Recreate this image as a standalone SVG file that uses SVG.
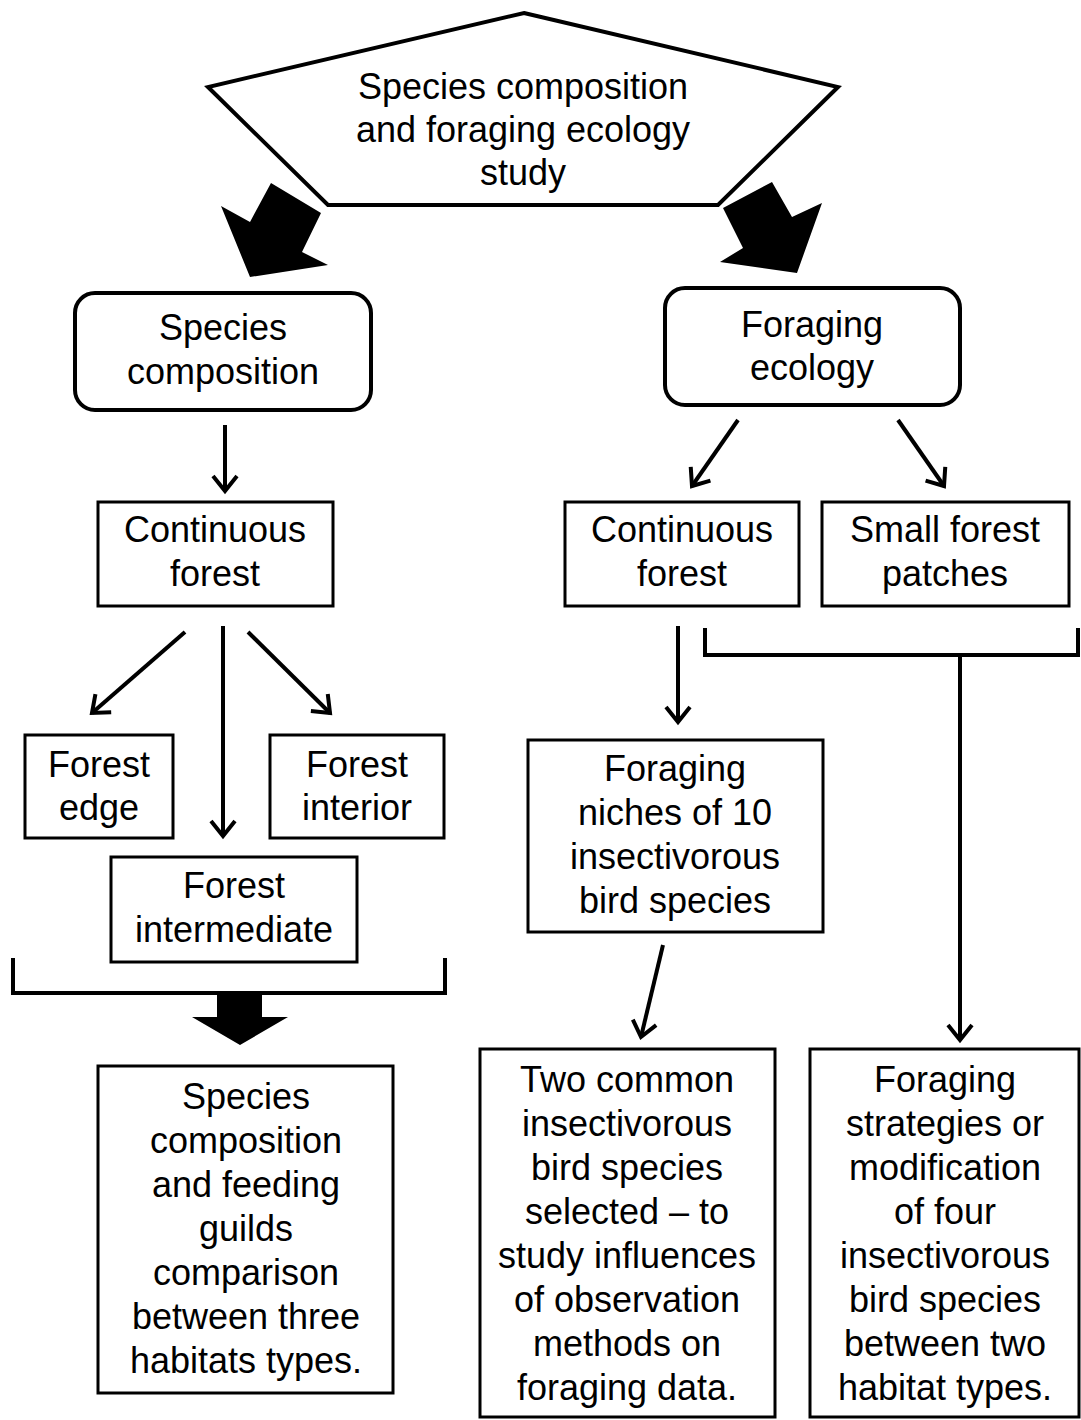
<svg xmlns="http://www.w3.org/2000/svg" width="1081" height="1420" viewBox="0 0 1081 1420">
<style>
.t{font-family:"Liberation Sans",Arial,sans-serif;font-size:36px;fill:#000;text-anchor:middle}
.box{fill:#fff;stroke:#000;stroke-width:3}
.rbox{fill:#fff;stroke:#000;stroke-width:4}
.ln{fill:none;stroke:#000;stroke-width:4}
.blk{fill:#000;stroke:none}
</style>
<defs>
<marker id="ah" viewBox="-20 -14 26 28" refX="0" refY="0" markerWidth="26" markerHeight="28" orient="auto" markerUnits="userSpaceOnUse" overflow="visible">
<path d="M-15,-12 L0,0 L-15,12" fill="none" stroke="#000" stroke-width="4"/>
</marker>
</defs>
<rect width="1081" height="1420" fill="#fff"/>

<g id="connectors">
<polygon class="blk" points="271,183 321,213 302,252 328,265 250,277 221,206 250,222"/>
<polygon class="blk" points="723,208 772,182 792,217 822,203 797,273 720,262 743,248"/>
<line class="ln" x1="225" y1="425" x2="225" y2="491" marker-end="url(#ah)"/>
<line class="ln" x1="738" y1="420" x2="692" y2="486" marker-end="url(#ah)"/>
<line class="ln" x1="898" y1="420" x2="944" y2="486" marker-end="url(#ah)"/>
<line class="ln" x1="185" y1="632" x2="92" y2="713" marker-end="url(#ah)"/>
<line class="ln" x1="223" y1="626" x2="223" y2="836" marker-end="url(#ah)"/>
<line class="ln" x1="248" y1="632" x2="330" y2="713" marker-end="url(#ah)"/>
<polyline class="ln" points="13,958 13,993 445,993 445,958"/>
<polygon class="blk" points="217,993 262,993 262,1017 288,1017 240,1045 192,1017 217,1017"/>
<line class="ln" x1="678" y1="626" x2="678" y2="722" marker-end="url(#ah)"/>
<polyline class="ln" points="705,628 705,655 1078,655 1078,628"/>
<line class="ln" x1="960" y1="655" x2="960" y2="1040" marker-end="url(#ah)"/>
<line class="ln" x1="663" y1="945" x2="641" y2="1037" marker-end="url(#ah)"/>
</g>

<g id="study">
<polygon class="rbox" points="524,13 838,87 718,205 328,205 208,87"/>
<text class="t" x="523" y="99">Species composition</text>
<text class="t" x="523" y="142">and foraging ecology</text>
<text class="t" x="523" y="185">study</text>
</g>

<g id="species-composition">
<rect class="rbox" x="75" y="293" width="296" height="117" rx="20"/>
<text class="t" x="223" y="340">Species</text>
<text class="t" x="223" y="384">composition</text>
</g>

<g id="foraging-ecology">
<rect class="rbox" x="665" y="288" width="295" height="117" rx="20"/>
<text class="t" x="812" y="337">Foraging</text>
<text class="t" x="812" y="380">ecology</text>
</g>

<g id="continuous-forest-left">
<rect class="box" x="98" y="502" width="235" height="104"/>
<text class="t" x="215" y="542">Continuous</text>
<text class="t" x="215" y="586">forest</text>
</g>

<g id="forest-edge">
<rect class="box" x="25" y="735" width="148" height="103"/>
<text class="t" x="99" y="777">Forest</text>
<text class="t" x="99" y="820">edge</text>
</g>

<g id="forest-interior">
<rect class="box" x="270" y="735" width="174" height="103"/>
<text class="t" x="357" y="777">Forest</text>
<text class="t" x="357" y="820">interior</text>
</g>

<g id="forest-intermediate">
<rect class="box" x="111" y="857" width="246" height="105"/>
<text class="t" x="234" y="898">Forest</text>
<text class="t" x="234" y="942">intermediate</text>
</g>

<g id="species-comparison">
<rect class="box" x="98" y="1066" width="295" height="327"/>
<text class="t" x="246" y="1109">Species</text>
<text class="t" x="246" y="1153">composition</text>
<text class="t" x="246" y="1197">and feeding</text>
<text class="t" x="246" y="1241">guilds</text>
<text class="t" x="246" y="1285">comparison</text>
<text class="t" x="246" y="1329">between three</text>
<text class="t" x="246" y="1373">habitats types.</text>
</g>

<g id="continuous-forest-right">
<rect class="box" x="565" y="502" width="234" height="104"/>
<text class="t" x="682" y="542">Continuous</text>
<text class="t" x="682" y="586">forest</text>
</g>

<g id="small-forest-patches">
<rect class="box" x="822" y="502" width="247" height="104"/>
<text class="t" x="945" y="542">Small forest</text>
<text class="t" x="945" y="586">patches</text>
</g>

<g id="foraging-niches">
<rect class="box" x="528" y="740" width="295" height="192"/>
<text class="t" x="675" y="781">Foraging</text>
<text class="t" x="675" y="825">niches of 10</text>
<text class="t" x="675" y="869">insectivorous</text>
<text class="t" x="675" y="913">bird species</text>
</g>

<g id="two-common">
<rect class="box" x="480" y="1049" width="295" height="368"/>
<text class="t" x="627" y="1092">Two common</text>
<text class="t" x="627" y="1136">insectivorous</text>
<text class="t" x="627" y="1180">bird species</text>
<text class="t" x="627" y="1224">selected – to</text>
<text class="t" x="627" y="1268">study influences</text>
<text class="t" x="627" y="1312">of observation</text>
<text class="t" x="627" y="1356">methods on</text>
<text class="t" x="627" y="1400">foraging data.</text>
</g>

<g id="foraging-strategies">
<rect class="box" x="810" y="1049" width="269" height="368"/>
<text class="t" x="945" y="1092">Foraging</text>
<text class="t" x="945" y="1136">strategies or</text>
<text class="t" x="945" y="1180">modification</text>
<text class="t" x="945" y="1224">of four</text>
<text class="t" x="945" y="1268">insectivorous</text>
<text class="t" x="945" y="1312">bird species</text>
<text class="t" x="945" y="1356">between two</text>
<text class="t" x="945" y="1400">habitat types.</text>
</g>
</svg>
